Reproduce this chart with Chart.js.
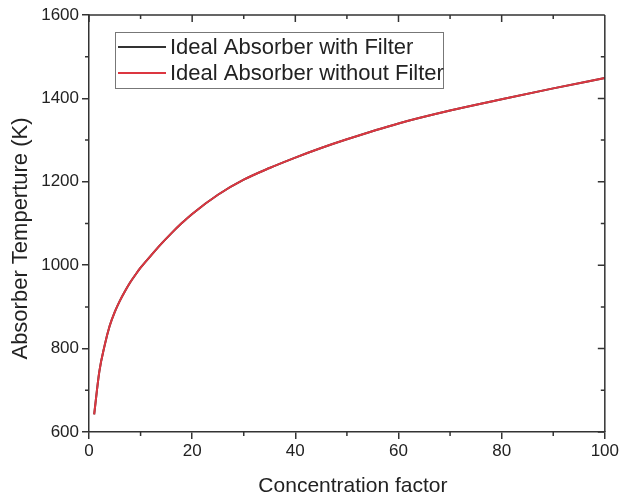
<!DOCTYPE html>
<html lang="en">
<head>
  <meta charset="UTF-8">
  <title>Absorber Temperature vs Concentration</title>
  <script src="https://cdn.jsdelivr.net/npm/chart.js"></script>
  <style>
    body { margin: 0; background: #fff; }
    #wrap { position: relative; width: 621px; height: 504px; }
  </style>
</head>
<body>
  <div id="wrap"><canvas id="chart"></canvas></div>

  <script>
    // values
    const concentration = [1, 2, 3, 4, 5, 6, 7, 8, 9, 10, 12, 14, 16, 18, 20, 25, 30, 35, 40, 45, 50, 60, 70, 80, 90, 100];
    const tempWithFilter = [642, 745, 806, 854, 888, 915, 938, 959, 977, 994, 1023, 1051, 1077, 1101, 1123, 1169, 1205, 1233, 1258, 1281, 1302, 1340, 1371, 1398, 1424, 1449];
    const tempWithoutFilter = [642, 745, 806, 854, 888, 915, 938, 959, 977, 994, 1023, 1051, 1077, 1101, 1123, 1169, 1205, 1233, 1258, 1281, 1302, 1340, 1371, 1398, 1424, 1449];

    const xTitle = 'Concentration factor';
    const yTitle = 'Absorber Temperture (K)';
    const font = 'Arial, "Liberation Sans", sans-serif';
    const ink = '#222';

    const toPoints = ys => concentration.map((c, i) => ({ x: c, y: ys[i] }));

    // frame, minor ticks, mirrored ticks, titles and boxed legend
    const decorations = {
      id: 'decorations',
      afterDraw(chart) {
        const ctx = chart.ctx;
        const a = chart.chartArea;
        const xs = chart.scales.x, ys = chart.scales.y;
        ctx.save();
        ctx.strokeStyle = '#333';
        ctx.lineWidth = 1.5;
        ctx.beginPath();
        ctx.moveTo(a.left, a.top); ctx.lineTo(a.right, a.top);
        ctx.moveTo(a.right, a.top); ctx.lineTo(a.right, a.bottom);
        // x ticks: minor outward on bottom, all inward on top
        for (let v = 0; v <= 100; v += 10) {
          const px = xs.getPixelForValue(v);
          const major = v % 20 === 0;
          if (!major) { ctx.moveTo(px, a.bottom); ctx.lineTo(px, a.bottom + 4); }
          ctx.moveTo(px, a.top); ctx.lineTo(px, a.top + (major ? 7 : 4));
        }
        for (let v = 600; v <= 1600; v += 100) {
          const py = ys.getPixelForValue(v);
          const major = v % 200 === 0;
          if (!major) { ctx.moveTo(a.left, py); ctx.lineTo(a.left - 4, py); }
          ctx.moveTo(a.right, py); ctx.lineTo(a.right - (major ? 7 : 4), py);
        }
        ctx.stroke();

        // axis titles
        ctx.fillStyle = ink;
        ctx.textAlign = 'center';
        ctx.textBaseline = 'middle';
        ctx.font = '21px ' + font;
        ctx.fillText(xTitle, (a.left + a.right) / 2 + 6, 486);
        ctx.save();
        ctx.translate(21, (a.top + a.bottom) / 2 + 15);
        ctx.rotate(-Math.PI / 2);
        ctx.font = '22px ' + font;
        ctx.fillText(yTitle, 0, 0);
        ctx.restore();

        // legend box
        const lx = a.left + 26, ly = a.top + 17, lw = 328, lh = 56;
        ctx.lineWidth = 1;
        ctx.strokeStyle = '#777';
        ctx.strokeRect(lx + 0.5, ly + 0.5, lw, lh);
        ctx.font = '22px ' + font;
        ctx.textAlign = 'left';
        chart.data.datasets.forEach((ds, i) => {
          const ry = ly + 15 + i * 26;
          ctx.strokeStyle = i === 0 ? '#333' : ds.borderColor;
          ctx.lineWidth = 2;
          ctx.beginPath();
          ctx.moveTo(lx + 3, ry); ctx.lineTo(lx + 51, ry);
          ctx.stroke();
          ctx.fillStyle = ink;
          ctx.fillText(ds.label, lx + 55, ry + 1);
        });
        ctx.restore();
      }
    };

    new Chart(document.getElementById('chart'), {
      type: 'line',
      data: {
        datasets: [
          {
            label: 'Ideal Absorber with Filter',
            data: toPoints(tempWithFilter),
            borderColor: '#333',
            borderWidth: 2,
            pointRadius: 0,
            cubicInterpolationMode: 'monotone',
            order: 2
          },
          {
            label: 'Ideal Absorber without Filter',
            data: toPoints(tempWithoutFilter),
            borderColor: '#dc3640',
            borderWidth: 2,
            pointRadius: 0,
            cubicInterpolationMode: 'monotone',
            order: 1
          }
        ]
      },
      options: {
        responsive: true,
        maintainAspectRatio: false,
        animation: false,
        layout: { padding: { top: 15, right: 11, left: 0, bottom: 0 } },
        plugins: { legend: { display: false }, tooltip: { enabled: false } },
        scales: {
          x: {
            type: 'linear',
            min: 0, max: 100,
            afterFit: s => { s.height = 72; },
            grid: { drawOnChartArea: false, tickLength: 7, color: '#333', lineWidth: 1.5 },
            border: { color: '#333', width: 1.5 },
            ticks: { stepSize: 20, padding: 2, color: ink, font: { family: font, size: 17 }, maxRotation: 0 }
          },
          y: {
            min: 600, max: 1600,
            afterFit: s => { s.width = 89; },
            grid: { drawOnChartArea: false, tickLength: 7, color: '#333', lineWidth: 1.5 },
            border: { color: '#333', width: 1.5 },
            ticks: { stepSize: 200, padding: 3, color: ink, font: { family: font, size: 17 }, callback: v => String(v) }
          }
        }
      },
      plugins: [decorations]
    });
  </script>
</body>
</html>
